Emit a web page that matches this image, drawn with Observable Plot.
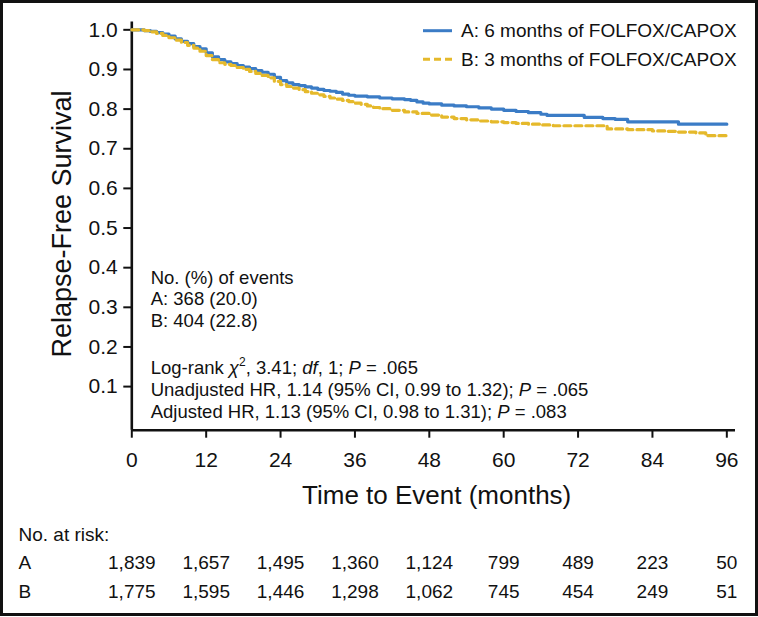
<!DOCTYPE html>
<html><head><meta charset="utf-8">
<script src="https://cdn.jsdelivr.net/npm/d3@7"></script>
<script src="https://cdn.jsdelivr.net/npm/@observablehq/plot@0.6"></script>
<style>
body{margin:0;background:#fff}
#wrap{position:relative;width:758px;height:617px;overflow:hidden;background:#fff}
#border{position:absolute;left:0;top:0;width:758px;height:616px;box-sizing:border-box;border:3px solid #111;pointer-events:none}
#chart{position:absolute;left:0;top:0}
</style></head><body>
<div id="wrap"><div id="chart"></div><div id="border"></div></div>
<script>
// ---- data ----
const timesA = [0,1,2,3,4,5,6,7,8,9,10,11,12,13,14,15,16,17,18,19,20,21,22,23,24,25,26,27,28,29,30,31,32,33,34,35,36,38,40,42,44,45,46,47,48,50,52,54,56,58,60,62,64,66,67,73,76,78,80,88.2,96];
const survA  = [1.0,1.0,0.998,0.996,0.993,0.989,0.984,0.977,0.971,0.965,0.958,0.952,0.942,0.932,0.925,0.919,0.915,0.910,0.906,0.902,0.897,0.893,0.888,0.880,0.872,0.866,0.862,0.859,0.856,0.853,0.850,0.847,0.845,0.842,0.838,0.835,0.833,0.831,0.828,0.826,0.824,0.822,0.818,0.815,0.813,0.810,0.808,0.806,0.803,0.800,0.797,0.794,0.791,0.787,0.784,0.779,0.776,0.774,0.768,0.762,0.762];
const timesB = [0,1,2,3,4,5,6,7,8,9,10,11,12,13,14,15,16,17,18,19,20,21,22,23,24,25,26,27,28,29,30,31,32,33,34,35,36,37,38,39,40,42,44,46,48,50,52,54,56,58,60,62,64,66,68,76.7,80,84,86,88,91,92.6,96];
const survB  = [1.0,1.0,0.998,0.995,0.991,0.986,0.980,0.974,0.968,0.961,0.954,0.946,0.935,0.925,0.917,0.913,0.910,0.905,0.900,0.895,0.890,0.885,0.879,0.870,0.862,0.857,0.853,0.849,0.844,0.840,0.836,0.832,0.828,0.825,0.822,0.819,0.815,0.812,0.808,0.804,0.801,0.797,0.793,0.789,0.785,0.780,0.776,0.773,0.770,0.768,0.766,0.764,0.762,0.760,0.758,0.750,0.748,0.745,0.744,0.742,0.740,0.733,0.733];
const xTicks = [0,12,24,36,48,60,72,84,96];
const yTicks = [0.1,0.2,0.3,0.4,0.5,0.6,0.7,0.8,0.9,1.0];
const riskTimes = [0,12,24,36,48,60,72,84,96];
const riskA = [1839,1657,1495,1360,1124,799,489,223,50];
const riskB = [1775,1595,1446,1298,1062,745,454,249,51];
const groupLabels = ["A","B"];
const seriesNames = ["A: 6 months of FOLFOX/CAPOX","B: 3 months of FOLFOX/CAPOX"];
const seriesColors = ["#3b7cc6","#e5b92b"];
const yTitle = "Relapse-Free Survival";
const xTitle = "Time to Event (months)";
const riskTitle = "No. at risk:";

// ---- layout ----
const W = 758, H = 617;
const xDomain = [0, 97.4], yDomain = [-0.01, 1.02];
const mL = 131.3, mR = 23, mT = 21.4, mB = 187.3;
const frameBottom = H - mB;
const FONT = "'Liberation Sans', Arial, Helvetica, sans-serif";

const dataA = timesA.map((t, i) => ({t, s: survA[i]}));
const dataB = timesB.map((t, i) => ({t, s: survB[i]}));
const fmtN = d3.format(",");
const rowsA = riskTimes.map((t, i) => ({t, n: fmtN(riskA[i])}));
const rowsB = riskTimes.map((t, i) => ({t, n: fmtN(riskB[i])}));

const plot = Plot.plot({
  width: W, height: H,
  marginLeft: mL, marginRight: mR, marginTop: mT, marginBottom: mB,
  style: {fontFamily: FONT, fontSize: "21px", color: "#111", background: "transparent", overflow: "visible"},
  x: {domain: xDomain, ticks: xTicks, tickSize: 8, tickPadding: 14, label: null, tickFormat: d => String(d)},
  y: {domain: yDomain, ticks: yTicks, tickSize: 8, tickPadding: 6, label: null, tickFormat: d3.format(".1f")},
  marks: [
    Plot.ruleX([xDomain[0]], {y1: yDomain[0], y2: yDomain[1], stroke: "#111", strokeWidth: 2.6}),
    Plot.ruleY([yDomain[0]], {x1: xDomain[0], x2: xDomain[1], stroke: "#111", strokeWidth: 2.6}),
    Plot.line(dataA, {x: "t", y: "s", curve: "step-after", stroke: seriesColors[0], strokeWidth: 3.2}),
    Plot.line(dataB, {x: "t", y: "s", curve: "step-after", stroke: seriesColors[1], strokeWidth: 3.2, strokeDasharray: "7,4"}),
    Plot.text([yTitle], {text: d => d, frameAnchor: "left", rotate: -90, dx: 70 - mL, dy: -2, lineAnchor: "bottom", textAnchor: "middle", fontSize: 27}),
    Plot.text([xTitle], {text: d => d, frameAnchor: "bottom", dx: 3, dy: 503 - frameBottom, lineAnchor: "bottom", textAnchor: "middle", fontSize: 26}),
    Plot.text([riskTitle], {text: d => d, frameAnchor: "bottom-left", dx: 18 - mL, dy: 540 - frameBottom, lineAnchor: "bottom", textAnchor: "start", fontSize: 19}),
    Plot.text([groupLabels[0]], {text: d => d, frameAnchor: "bottom-left", dx: 18 - mL, dy: 568 - frameBottom, lineAnchor: "bottom", textAnchor: "start", fontSize: 19}),
    Plot.text([groupLabels[1]], {text: d => d, frameAnchor: "bottom-left", dx: 18 - mL, dy: 597 - frameBottom, lineAnchor: "bottom", textAnchor: "start", fontSize: 19}),
    Plot.text(rowsA, {x: "t", text: "n", frameAnchor: "bottom", dy: 568 - frameBottom, lineAnchor: "bottom", textAnchor: "middle", fontSize: 19}),
    Plot.text(rowsB, {x: "t", text: "n", frameAnchor: "bottom", dy: 597 - frameBottom, lineAnchor: "bottom", textAnchor: "middle", fontSize: 19})
  ]
});
document.getElementById("chart").appendChild(plot);

const svg = d3.select(plot);
svg.selectAll('[aria-label="x-axis tick"] path, [aria-label="y-axis tick"] path').attr("stroke-width", 2);
svg.selectAll('[aria-label="x-axis tick"], [aria-label="y-axis tick"]').attr("stroke", "#111");

// ---- legend ----
const leg = svg.append("g").attr("font-family", FONT).attr("font-size", 19).attr("fill", "#111").attr("text-anchor", "start");
[[30.7, 37], [59.3, 65.5]].forEach(([ly, by], i) => {
  leg.append("line").attr("x1", 423).attr("x2", 452).attr("y1", ly).attr("y2", ly)
    .attr("stroke", seriesColors[i]).attr("stroke-width", 3)
    .attr("stroke-dasharray", i === 1 ? "7,4" : null);
  leg.append("text").attr("x", 461).attr("y", by).attr("text-anchor", "start").text(seriesNames[i]);
});

// ---- statistics annotation ----
const ann = svg.append("g").attr("font-family", FONT).attr("font-size", 18.5).attr("fill", "#111").attr("text-anchor", "start");
const annLines = [
  [283.5, [["No. (%) of events"]]],
  [305, [["A: 368 (20.0)"]]],
  [326.5, [["B: 404 (22.8)"]]],
  [374, [["Log-rank "], ["\u03C7", "i"], ["2", "sup"], [", 3.41; "], ["df", "i"], [", 1; "], ["P", "i"], [" = .065"]]],
  [396, [["Unadjusted HR, 1.14 (95% CI, 0.99 to 1.32); "], ["P", "i"], [" = .065"]]],
  [417.5, [["Adjusted HR, 1.13 (95% CI, 0.98 to 1.31); "], ["P", "i"], [" = .083"]]]
];
annLines.forEach(([by, parts]) => {
  const t = ann.append("text").attr("x", 150.7).attr("y", by).attr("text-anchor", "start");
  let raised = false;
  parts.forEach(([s, st]) => {
    const sp = t.append("tspan").text(s);
    if (st === "i") sp.attr("font-style", "italic");
    if (st === "sup") { sp.attr("font-size", 12).attr("dy", -8); raised = true; }
    else if (raised) { sp.attr("dy", 8); raised = false; }
  });
});
</script>
</body></html>
